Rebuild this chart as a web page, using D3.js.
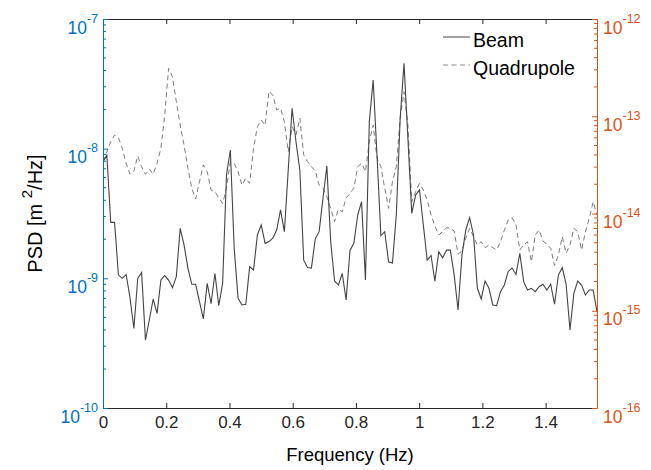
<!DOCTYPE html>
<html>
<head>
<meta charset="utf-8">
<script src="https://cdn.jsdelivr.net/npm/d3@7"></script>
<style>
  body { margin: 0; background: #fff; }
  svg { font-family: "Liberation Sans", Arial, Helvetica, sans-serif; }
</style>
</head>
<body>
<svg id="chart" width="651" height="470"></svg>
<script>
/* global d3 */

// frequency grid (Hz)
const freq = [
  0, 0.0122, 0.0244, 0.0366, 0.0488, 0.0610, 0.0732, 0.0854, 0.0977, 0.1099,
  0.1221, 0.1343, 0.1465, 0.1587, 0.1709, 0.1831, 0.1953, 0.2075, 0.2197, 0.2319,
  0.2441, 0.2563, 0.2686, 0.2808, 0.2930, 0.3052, 0.3174, 0.3296, 0.3418, 0.3540,
  0.3662, 0.3784, 0.3906, 0.4028, 0.4150, 0.4272, 0.4395, 0.4517, 0.4639, 0.4761,
  0.4883, 0.5005, 0.5127, 0.5249, 0.5371, 0.5493, 0.5615, 0.5737, 0.5859, 0.5981,
  0.6104, 0.6226, 0.6348, 0.6470, 0.6592, 0.6714, 0.6836, 0.6958, 0.7080, 0.7202,
  0.7324, 0.7446, 0.7568, 0.7690, 0.7813, 0.7935, 0.8057, 0.8179, 0.8301, 0.8423,
  0.8545, 0.8667, 0.8789, 0.8911, 0.9033, 0.9155, 0.9277, 0.9399, 0.9521, 0.9644,
  0.9766, 0.9888, 1.0010, 1.0132, 1.0254, 1.0376, 1.0498, 1.0620, 1.0742, 1.0864,
  1.0986, 1.1108, 1.1230, 1.1353, 1.1475, 1.1597, 1.1719, 1.1841, 1.1963, 1.2085,
  1.2207, 1.2329, 1.2451, 1.2573, 1.2695, 1.2817, 1.2939, 1.3062, 1.3184, 1.3306,
  1.3428, 1.3550, 1.3672, 1.3794, 1.3916, 1.4038, 1.4160, 1.4282, 1.4404, 1.4526,
  1.4648, 1.4771, 1.4893, 1.5015, 1.5137, 1.5259, 1.5381, 1.5503, 1.5625
];

// beam PSD, left axis (m^2/Hz)
const beam = [
  7.9e-9, 8.9e-9, 2.7e-9, 2.7e-9, 1.06e-9, 1.0e-9, 1.07e-9, 7.1e-10, 4.1e-10, 1.0e-9,
  1.11e-9, 3.34e-10, 4.77e-10, 6.93e-10, 5.37e-10, 9.71e-10, 1.05e-9, 9.7e-10, 8.47e-10, 1.03e-9,
  2.43e-9, 1.81e-9, 1.2e-9, 9.0e-10, 9.0e-10, 6.6e-10, 4.86e-10, 9.15e-10, 6.37e-10, 1.09e-9,
  6.15e-10, 9.15e-10, 6.27e-9, 9.77e-9, 1.7e-9, 7.01e-10, 6.23e-10, 6.31e-10, 1.23e-9, 1.16e-9,
  2.16e-9, 2.58e-9, 1.86e-9, 1.92e-9, 2.04e-9, 2.36e-9, 3.37e-9, 2.29e-9, 6.85e-9, 2.05e-8,
  1.13e-8, 6.85e-9, 1.38e-9, 1.21e-9, 1.2e-9, 2.01e-9, 2.29e-9, 4.14e-9, 7.35e-9, 1.92e-9,
  9.54e-10, 8.88e-10, 1.09e-9, 6.81e-10, 1.65e-9, 1.86e-9, 3.08e-9, 3.9e-9, 9.7e-10, 1.61e-8,
  3.38e-8, 8.9e-9, 2.13e-9, 2.29e-9, 1.34e-9, 1.31e-9, 3.08e-9, 1.71e-8, 4.55e-8, 1.2e-8,
  3.17e-9, 4.39e-9, 4.8e-9, 2.58e-9, 1.38e-9, 1.5e-9, 9.5e-10, 1.6e-9, 1.44e-9, 1.65e-9,
  1.65e-9, 1.06e-9, 5.7e-10, 1.51e-9, 2.36e-9, 2.94e-9, 2.16e-9, 8.38e-10, 6.93e-10, 9.54e-10,
  8.38e-10, 6.23e-10, 6.15e-10, 7.89e-10, 8.88e-10, 1.13e-9, 1.2e-9, 1.07e-9, 1.56e-9, 9.42e-10,
  8.13e-10, 8.38e-10, 7.89e-10, 8.62e-10, 9.0e-10, 8.13e-10, 9.0e-10, 6.31e-10, 1.06e-9, 1.21e-9,
  9.0e-10, 4.0e-10, 7.66e-10, 9.54e-10, 8.88e-10, 7.44e-10, 8.13e-10, 8.13e-10, 5.53e-10
];

// quadrupole PSD, right axis
const quad = [
  3.41e-14, 4.32e-14, 5.47e-14, 6.42e-14, 6.02e-14, 4.68e-14, 3.28e-14, 2.53e-14, 2.74e-14, 3.9e-14,
  3.03e-14, 2.53e-14, 2.85e-14, 2.53e-14, 3.28e-14, 4.68e-14, 1.03e-13, 3.11e-13, 2.55e-13, 1.41e-13,
  8.13e-14, 5.06e-14, 2.92e-14, 1.82e-14, 1.41e-14, 2.12e-14, 3.15e-14, 2.69e-14, 1.74e-14, 1.68e-14,
  1.45e-14, 1.27e-14, 1.83e-14, 3.41e-14, 3.28e-14, 2.69e-14, 1.96e-14, 2.3e-14, 2.04e-14, 4.68e-14,
  7.81e-14, 9.15e-14, 8.07e-14, 1.81e-13, 1.65e-13, 1.16e-13, 1.21e-13, 8.79e-14, 4.32e-14, 7.81e-14,
  6.42e-14, 9.53e-14, 4.0e-14, 3.41e-14, 3.03e-14, 2.74e-14, 1.96e-14, 1.82e-14, 1.49e-14, 1.13e-14,
  8.24e-15, 1.11e-14, 1.04e-14, 1.45e-14, 1.61e-14, 1.82e-14, 3.03e-14, 3.28e-14, 2.69e-14, 5.47e-14,
  8.13e-14, 3.69e-14, 3.03e-14, 1.82e-14, 1.13e-14, 2.12e-14, 3.03e-14, 9.53e-14, 1.79e-13, 8.13e-14,
  1.32e-14, 1.68e-14, 2.04e-14, 1.74e-14, 1.38e-14, 9.65e-15, 7.44e-15, 6.01e-15, 6.5e-15, 7.14e-15,
  7.04e-15, 6.61e-15, 3.81e-15, 4.12e-15, 5.56e-15, 7.04e-15, 5.77e-15, 4.74e-15, 5.13e-15, 4.45e-15,
  4.74e-15, 4.45e-15, 4.21e-15, 5.13e-15, 6.77e-15, 8.58e-15, 9.05e-15, 7.74e-15, 4.21e-15, 4.74e-15,
  5.13e-15, 3.19e-15, 6.01e-15, 6.77e-15, 5.21e-15, 4.82e-15, 4.39e-15, 2.91e-15, 3.74e-15, 5.77e-15,
  3.9e-15, 4.74e-15, 7.04e-15, 6.5e-15, 4.21e-15, 6.5e-15, 8.93e-15, 1.32e-14, 9.65e-15
];

const xTicks = [0, 0.2, 0.4, 0.6, 0.8, 1, 1.2, 1.4];
const leftExp = [-10, -9, -8, -7];
const rightExp = [-16, -15, -14, -13, -12];
const seriesNames = ['Beam', 'Quadrupole'];

const plot = {left: 103, right: 597, top: 19, bottom: 408};
const blue = '#0072BD';
const orange = '#D95319';
const dark = '#262626';
const beamColor = '#444444';
const quadColor = '#7d7d7d';
const quadDash = '5,3.5';

const svg = d3.select('#chart');

const x = d3.scaleLinear().domain([0, 1.5625]).range([plot.left, plot.right]);
const yL = d3.scaleLog().domain([1e-10, 1e-7]).range([plot.bottom, plot.top]);
const yR = d3.scaleLog().domain([1e-16, 1e-12]).range([plot.bottom, plot.top]);

svg.append('clipPath')
  .attr('id', 'plot-clip')
  .append('rect')
  .attr('x', plot.left)
  .attr('y', plot.top)
  .attr('width', plot.right - plot.left)
  .attr('height', plot.bottom - plot.top);

// lines
const lines = svg.append('g').attr('clip-path', 'url(#plot-clip)');

lines.append('path')
  .datum(quad)
  .attr('fill', 'none')
  .attr('stroke', quadColor)
  .attr('stroke-width', 1)
  .attr('stroke-dasharray', quadDash)
  .attr('d', d3.line().x((d, i) => x(freq[i])).y(d => yR(d)));

lines.append('path')
  .datum(beam)
  .attr('fill', 'none')
  .attr('stroke', beamColor)
  .attr('stroke-width', 1.1)
  .attr('d', d3.line().x((d, i) => x(freq[i])).y(d => yL(d)));

// x axes (bottom + top)
const xAxisB = svg.append('g')
  .attr('transform', `translate(0,${plot.bottom})`)
  .call(d3.axisBottom(x).tickValues(xTicks).tickSizeInner(-5).tickSizeOuter(0).tickPadding(8)
    .tickFormat(d3.format('')));
xAxisB.select('.domain').attr('stroke', dark);
xAxisB.selectAll('.tick line').attr('stroke', dark);
xAxisB.selectAll('.tick text')
  .attr('fill', dark)
  .style('font-size', '17px')
  .style('font-family', '"Liberation Sans", Arial, sans-serif');

const xAxisT = svg.append('g')
  .attr('transform', `translate(0,${plot.top})`)
  .call(d3.axisTop(x).tickValues(xTicks).tickSizeInner(-5).tickSizeOuter(0).tickFormat(''));
xAxisT.select('.domain').attr('stroke', dark);
xAxisT.selectAll('.tick line').attr('stroke', dark);

// log y axes with 10^n labels
const expLabel = (sel) => {
  sel.each(function(d) {
    const t = d3.select(this);
    const e = Math.round(Math.log10(d));
    t.text(null).attr('dy', 14)
      .style('font-size', '17.5px')
      .style('font-family', '"Liberation Sans", Arial, sans-serif');
    t.append('tspan').text('10');
    t.append('tspan').attr('dy', -11).style('font-size', '12.5px').text(String(e));
  });
};

const leftAxis = svg.append('g')
  .attr('transform', `translate(${plot.left},0)`)
  .call(d3.axisLeft(yL).tickValues(leftExp.map(e => Math.pow(10, e)))
    .tickSizeInner(-5).tickSizeOuter(0).tickPadding(5));
leftAxis.select('.domain').attr('stroke', blue);
leftAxis.selectAll('.tick line').attr('stroke', blue);
leftAxis.selectAll('.tick text').attr('fill', blue).call(expLabel);

leftAxis.selectAll('.minor')
  .data(yL.ticks().filter(v => Math.abs(Math.log10(v) - Math.round(Math.log10(v))) > 1e-6))
  .enter().append('line')
  .attr('class', 'minor')
  .attr('x1', 0).attr('x2', 3)
  .attr('y1', d => yL(d)).attr('y2', d => yL(d))
  .attr('stroke', blue);

const rightAxis = svg.append('g')
  .attr('transform', `translate(${plot.right},0)`)
  .call(d3.axisRight(yR).tickValues(rightExp.map(e => Math.pow(10, e)))
    .tickSizeInner(-5).tickSizeOuter(0).tickPadding(6));
rightAxis.select('.domain').attr('stroke', orange);
rightAxis.selectAll('.tick line').attr('stroke', orange);
rightAxis.selectAll('.tick text').attr('fill', orange).call(expLabel);

rightAxis.selectAll('.minor')
  .data(yR.ticks().filter(v => Math.abs(Math.log10(v) - Math.round(Math.log10(v))) > 1e-6))
  .enter().append('line')
  .attr('class', 'minor')
  .attr('x1', 0).attr('x2', -3)
  .attr('y1', d => yR(d)).attr('y2', d => yR(d))
  .attr('stroke', orange);

// axis titles
svg.append('text')
  .attr('x', (plot.left + plot.right) / 2)
  .attr('y', 461)
  .attr('text-anchor', 'middle')
  .attr('fill', '#000')
  .style('font-size', '18.5px')
  .text('Frequency (Hz)');

const yTitle = svg.append('text')
  .attr('transform', `translate(42,${(plot.top + plot.bottom) / 2}) rotate(-90)`)
  .attr('text-anchor', 'middle')
  .attr('fill', '#000')
  .style('font-size', '20px');
yTitle.append('tspan').text('PSD [m ');
yTitle.append('tspan').attr('dy', -10).style('font-size', '15px').text('2');
yTitle.append('tspan').attr('dy', 10).text('/Hz]');

// legend
const legend = svg.append('g').attr('transform', 'translate(443,0)');
const legendStyle = [
  {stroke: beamColor, dash: null},
  {stroke: '#8c8c8c', dash: quadDash}
];
seriesNames.forEach((name, i) => {
  const yy = 37 + i * 28;
  legend.append('line')
    .attr('x1', 0).attr('x2', 27)
    .attr('y1', yy).attr('y2', yy)
    .attr('stroke', legendStyle[i].stroke)
    .attr('stroke-dasharray', legendStyle[i].dash);
  legend.append('text')
    .attr('x', 30).attr('y', yy + 10)
    .attr('fill', '#000')
    .style('font-size', '19.5px')
    .text(name);
});
</script>
</body>
</html>
